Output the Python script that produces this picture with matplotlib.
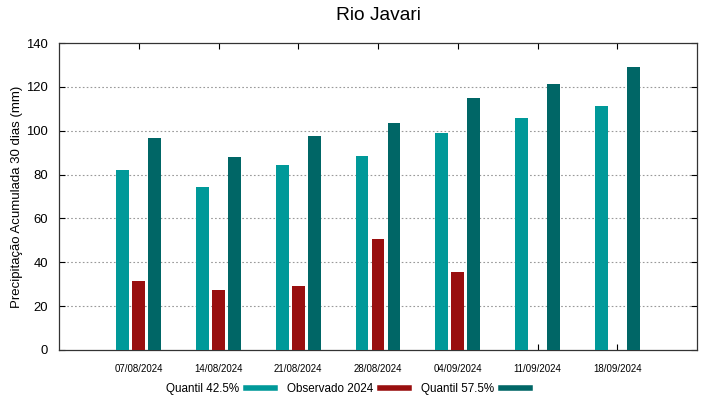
import numpy as np
import matplotlib
matplotlib.use("Agg")
import matplotlib.pyplot as plt
from matplotlib.lines import Line2D

plt.rcParams['font.family'] = ['Liberation Sans', 'DejaVu Sans']

# dados
datas = ['07/08/2024', '14/08/2024', '21/08/2024', '28/08/2024',
         '04/09/2024', '11/09/2024', '18/09/2024']
q425 = [82.0, 74.4, 84.2, 88.3, 98.8, 105.7, 111.2]
obs2024 = [31.6, 27.3, 29.4, 50.6, 35.7, np.nan, np.nan]
q575 = [96.5, 88.1, 97.7, 103.5, 114.8, 121.4, 129.1]

cor_q425 = '#009999'
cor_obs = '#990f0f'
cor_q575 = '#006666'

fig = plt.figure(figsize=(7.19, 3.99), dpi=100)
ax = fig.add_axes([59 / 719, 49 / 399, 638 / 719, 307 / 399])

x = np.arange(len(datas))
w = 0.16
ax.bar(x - 0.2, q425, width=w, color=cor_q425, zorder=3)
ax.bar(x, obs2024, width=w, color=cor_obs, zorder=3)
ax.bar(x + 0.2, q575, width=w, color=cor_q575, zorder=3)

ax.set_xlim(-1, 7)
ax.set_ylim(0, 140)
ax.set_yticks(np.arange(0, 141, 20))
ax.set_xticks(x)
ax.set_xticklabels(datas, fontsize=7)
ax.tick_params(axis='y', labelsize=9.4, direction='in', length=4, pad=8,
               right=True, width=0.8)
ax.tick_params(axis='x', direction='in', length=4, pad=10, top=True, width=0.8)

# grade pontilhada
for yv in range(20, 140, 20):
    ax.axhline(yv, color='#999999', linestyle=(0, (1.5, 2)), linewidth=0.8, zorder=1)

for s in ax.spines.values():
    s.set_color('#333333')
    s.set_linewidth(0.9)

ax.set_ylabel('Precipitação Acumulada 30 dias (mm)', fontsize=9.5)
ax.yaxis.set_label_coords(-36 / 638, 0.5)
fig.text(378 / 719, 1 - 15.5 / 399, 'Rio Javari', fontsize=13.8,
         ha='center', va='center')

handles = [Line2D([], [], color=cor_q425, lw=4),
           Line2D([], [], color=cor_obs, lw=4),
           Line2D([], [], color=cor_q575, lw=4)]
fig.legend(handles, ['Quantil 42.5%', 'Observado 2024', 'Quantil 57.5%'],
           loc='center', bbox_to_anchor=(348 / 719, 1 - 389 / 399), ncol=3,
           frameon=False, markerfirst=False, fontsize=8.4, handlelength=2.5,
           columnspacing=1.0, handletextpad=0.6)

fig.savefig('out.png', dpi=100)
